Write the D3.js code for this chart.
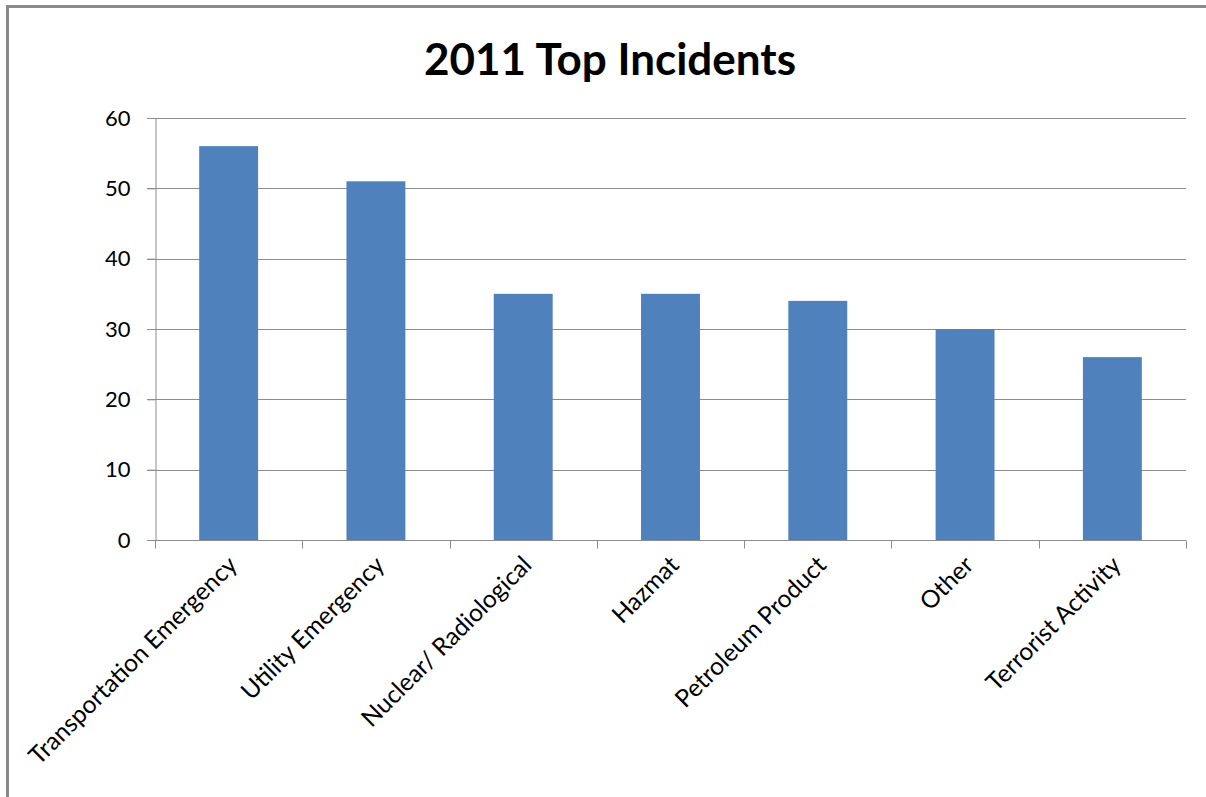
<!DOCTYPE html>
<meta charset="utf-8">
<title>2011 Top Incidents</title>
<style>
  body { margin: 0; background: #fff; }
  .grid line { stroke: #8c8c8c; stroke-width: 1px; }
  .axis path, .axis line { stroke: #8c8c8c; stroke-width: 1px; }
  .axis text { font-family: Lato, "Open Sans", sans-serif; font-size: 22px; fill: #000; }
  .axis text.lbl { font-size: 24.5px; }
</style>
<body>
<script src="https://d3js.org/d3.v7.min.js"></script>
<script>
// chart data
var categories = ["Transportation Emergency", "Utility Emergency", "Nuclear/ Radiological",
                  "Hazmat", "Petroleum Product", "Other", "Terrorist Activity"];
var incidents = [56, 51, 35, 35, 34, 30, 26];
var yTicks = [0, 10, 20, 30, 40, 50, 60];

// page size and plot area
var W = 1206, H = 797;
var margin = {top: 118, right: 20, bottom: 257, left: 155},
    width = 1186 - margin.left,
    height = 540 - margin.top;

var svg = d3.select("body").append("svg")
    .attr("width", W)
    .attr("height", H);

// chart border (only top and left visible)
svg.append("rect")
    .attr("x", 7.5).attr("y", 6.5)
    .attr("width", W + 20).attr("height", H + 20)
    .attr("fill", "none")
    .attr("stroke", "#8a8a8a")
    .attr("stroke-width", 3);

// title
svg.append("text")
    .attr("x", 610)
    .attr("y", 75)
    .attr("text-anchor", "middle")
    .style("font-family", "Lato, 'Open Sans', sans-serif")
    .style("font-weight", "bold")
    .style("font-size", "44px")
    .text("2011 Top Incidents");

var g = svg.append("g")
    .attr("transform", "translate(" + margin.left + "," + margin.top + ")");

var x = d3.scaleBand().domain(categories).range([0, width]).paddingInner(0.6).paddingOuter(0.3);
var xb = d3.scaleBand().domain(categories).range([0, width]);
var y = d3.scaleLinear().domain([0, 60]).range([height, 0]);

// gridlines
g.append("g")
    .attr("class", "grid")
    .selectAll("line")
    .data(yTicks.slice(1))
    .enter().append("line")
    .attr("x1", -8).attr("x2", width)
    .attr("y1", function(d) { return Math.round(y(d)) + 0.5; })
    .attr("y2", function(d) { return Math.round(y(d)) + 0.5; });

// bars
g.selectAll(".bar")
    .data(incidents)
    .enter().append("rect")
    .attr("class", "bar")
    .attr("x", function(d, i) { return x(categories[i]); })
    .attr("width", x.bandwidth())
    .attr("y", function(d) { return y(d); })
    .attr("height", function(d) { return height - y(d); })
    .attr("fill", "#4f81bd");

// y axis
g.append("g")
    .attr("class", "axis")
    .attr("transform", "translate(0.5,0)")
    .call(d3.axisLeft(y).tickValues(yTicks).tickSize(8).tickSizeOuter(0).tickPadding(17));

// x axis: ticks at category boundaries
var xAxis = g.append("g")
    .attr("class", "axis")
    .attr("transform", "translate(0," + (height + 0.5) + ")");
xAxis.append("line")
    .attr("x1", -8).attr("x2", width);
xAxis.selectAll(".tk")
    .data(d3.range(categories.length + 1))
    .enter().append("line")
    .attr("class", "tk")
    .attr("x1", function(i) { return Math.round(i * xb.step()) + 0.5; })
    .attr("x2", function(i) { return Math.round(i * xb.step()) + 0.5; })
    .attr("y1", 0).attr("y2", 8);

xAxis.selectAll(".lbl")
    .data(categories)
    .enter().append("text")
    .attr("class", "lbl")
    .attr("text-anchor", "end")
    .attr("transform", function(d) {
        var cx = xb(d) + xb.bandwidth() / 2 + 10;
        return "translate(" + cx + ",26) rotate(-45)";
    })
    .text(function(d) { return d; });
</script>
</body>
